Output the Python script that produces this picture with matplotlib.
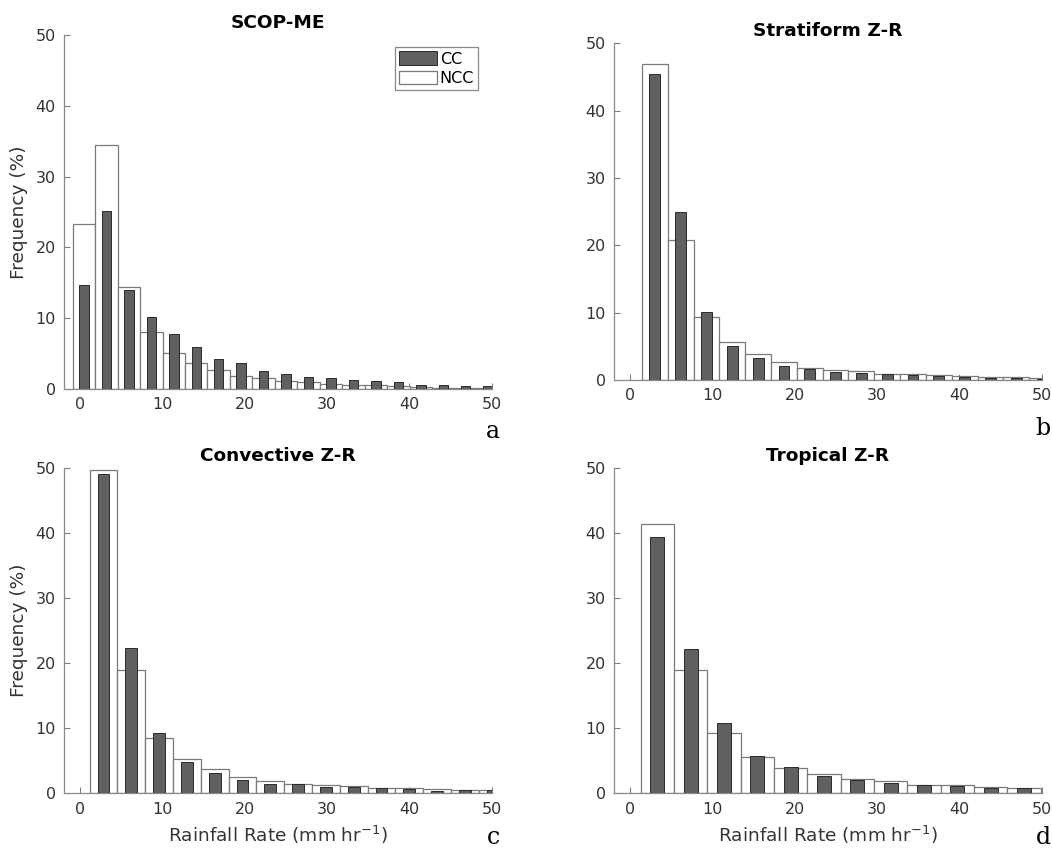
import matplotlib
matplotlib.use('Agg')
from matplotlib import pyplot as plt

# panel titles / letters
titles = ['SCOP-ME', 'Stratiform Z-R', 'Convective Z-R', 'Tropical Z-R']
letters = ['a', 'b', 'c', 'd']

# bin centres of rainfall rate (mm/hr) per panel
bins_a = [0.43, 3.16, 5.89, 8.62, 11.35, 14.08, 16.81, 19.54, 22.27, 25.00,
          27.73, 30.46, 33.19, 35.92, 38.65, 41.38, 44.11, 46.84, 49.57]
bins_b = [2.96, 6.10, 9.24, 12.38, 15.52, 18.66, 21.80, 24.94, 28.08, 31.22,
          34.36, 37.50, 40.64, 43.78, 46.92, 50.06]
bins_c = [2.80, 6.18, 9.56, 12.94, 16.32, 19.70, 23.08, 26.46, 29.84, 33.22,
          36.60, 39.98, 43.36, 46.74, 50.12]
bins_d = [3.28, 7.33, 11.38, 15.43, 19.48, 23.53, 27.58, 31.63, 35.68, 39.73,
          43.78, 47.83]
bin_widths = [2.73, 3.14, 3.38, 4.05]

# frequency (%) - CC
cc_a = [14.7, 25.2, 14.0, 10.1, 7.8, 5.9, 4.3, 3.67, 2.5, 2.17,
        1.74, 1.6, 1.3, 1.18, 0.99, 0.62, 0.62, 0.47, 0.38]
cc_b = [45.5, 25.0, 10.1, 5.05, 3.2, 2.08, 1.68, 1.19, 0.99, 0.89,
        0.74, 0.6, 0.5, 0.35, 0.35, 0.2]
cc_c = [49.0, 22.3, 9.2, 4.8, 3.1, 2.05, 1.4, 1.4, 1.0, 0.92,
        0.77, 0.72, 0.36, 0.5, 0.46]
cc_d = [39.3, 22.2, 10.85, 5.75, 4.05, 2.65, 2.05, 1.65, 1.2, 1.1,
        0.78, 0.85]

# frequency (%) - NCC
ncc_a = [23.3, 34.4, 14.4, 8.0, 5.05, 3.65, 2.65, 1.84, 1.5, 1.18,
         0.94, 0.75, 0.61, 0.52, 0.38, 0.28, 0.2, 0.14, 0.1]
ncc_b = [47.0, 20.8, 9.4, 5.6, 3.8, 2.67, 1.83, 1.49, 1.29, 0.94,
         0.84, 0.69, 0.54, 0.45, 0.4, 0.35]
ncc_c = [49.65, 19.0, 8.55, 5.2, 3.7, 2.5, 1.85, 1.5, 1.25, 1.15,
         0.78, 0.78, 0.62, 0.56, 0.5]
ncc_d = [41.3, 19.0, 9.2, 5.5, 3.95, 2.9, 2.25, 1.95, 1.35, 1.35,
         1.0, 0.85]

xticks = [0, 10, 20, 30, 40, 50]
yticks = [0, 10, 20, 30, 40, 50]

bins = [bins_a, bins_b, bins_c, bins_d]
cc = [cc_a, cc_b, cc_c, cc_d]
ncc = [ncc_a, ncc_b, ncc_c, ncc_d]

W, H = 1052, 848
# axes boxes in pixels: left, top, right, bottom
boxes = [(64, 35, 491.7, 389),
         (614, 43.3, 1041.7, 380),
         (64, 467.7, 491.7, 793.3),
         (614, 467.7, 1041.7, 793.3)]
letter_pos = [(493, 432), (1043, 428), (493, 837), (1043, 837)]

fig = plt.figure(figsize=(W / 100, H / 100), dpi=100)

for i in range(4):
    l, t, r, b = boxes[i]
    ax = fig.add_axes([l / W, 1 - b / H, (r - l) / W, (b - t) / H])
    w = bin_widths[i]
    ax.bar(bins[i], ncc[i], width=w, color='white', edgecolor='#7a7a7a',
           linewidth=0.9, label='NCC', zorder=2)
    ax.bar(bins[i], cc[i], width=w * 0.42, color='#606060', edgecolor='#2a2a2a',
           linewidth=0.7, label='CC', zorder=3)
    ax.set_xlim(-2, 50)
    ax.set_ylim(0, 50)
    ax.set_xticks(xticks)
    ax.set_yticks(yticks)
    ax.tick_params(direction='in', length=4, width=0.8, color='#808080',
                   labelsize=11.5, labelcolor='#333333', pad=6)
    for s in ['top', 'right']:
        ax.spines[s].set_visible(False)
    for s in ['left', 'bottom']:
        ax.spines[s].set_color('#8a8a8a')
        ax.spines[s].set_linewidth(0.9)
    ax.set_title(titles[i], fontsize=13.3, fontweight='bold', pad=5)
    if i % 2 == 0:
        ax.set_ylabel('Frequency (%)', fontsize=13.3, color='#333333', labelpad=5)
    if i >= 2:
        ax.set_xlabel('Rainfall Rate (mm hr$^{-1}$)', fontsize=13.3,
                      color='#333333', labelpad=5)
    if i == 0:
        h, lab = ax.get_legend_handles_labels()
        leg = ax.legend(h[::-1], lab[::-1], loc='upper right',
                        bbox_to_anchor=(0.968, 0.965), fontsize=11.5,
                        handlelength=2.4, handleheight=0.9, handletextpad=0.15,
                        borderpad=0.25, labelspacing=0.25, borderaxespad=0,
                        fancybox=False, framealpha=1)
        leg.get_frame().set_edgecolor('#8a8a8a')
        leg.get_frame().set_linewidth(0.9)
    fig.text(letter_pos[i][0] / W, 1 - letter_pos[i][1] / H, letters[i],
             family='DejaVu Serif', fontsize=17, ha='center', va='center')

plt.savefig('out.png', dpi=100)
